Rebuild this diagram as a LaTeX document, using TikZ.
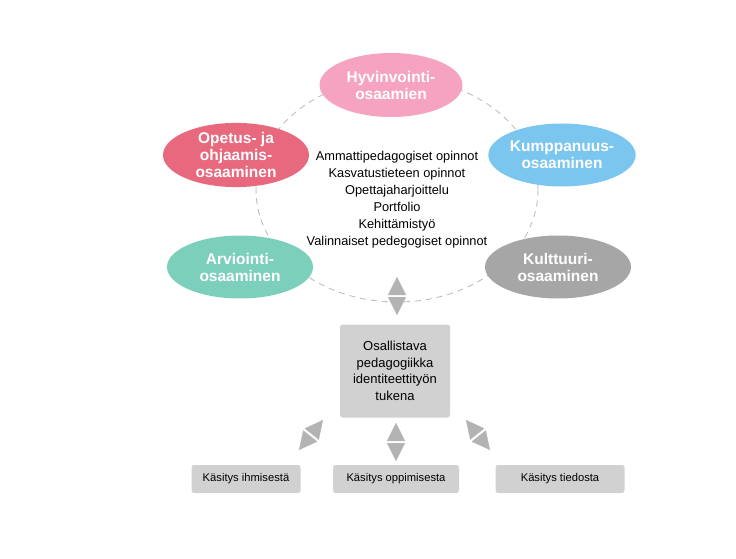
\documentclass[tikz,border=0pt]{standalone}
\usepackage{fontspec}
\setmainfont{Liberation Sans}
\usepackage{tikz}
\usetikzlibrary{shapes.geometric, arrows.meta, positioning}

\definecolor{pinkov}{HTML}{F5A3C0}
\definecolor{redov}{HTML}{E8687E}
\definecolor{blueov}{HTML}{7BC6EE}
\definecolor{tealov}{HTML}{7CCFBB}
\definecolor{grayov}{HTML}{A6A6A6}
\definecolor{boxgray}{HTML}{D1D1D2}
\definecolor{tipgray}{HTML}{B3B3B3}
\definecolor{ringgray}{HTML}{BDBDBD}

\begin{document}
\begin{tikzpicture}[
    x=1pt, y=-1pt,
    oval/.style={ellipse, minimum width=146pt, minimum height=63pt, inner sep=0pt, align=center, text=white, font=\fontsize{15.5}{17}\selectfont\bfseries},
    ring/.style={ellipse, draw=ringgray, line width=0.9pt, dash pattern=on 6pt off 5pt, minimum width=282pt, minimum height=224pt},
    box/.style={rectangle, rounded corners=2.5pt, fill=boxgray, align=center, inner sep=0pt},
    dbl/.style={white, line width=0.2pt, {Triangle[width=18pt, length=18pt, color=tipgray]}-{Triangle[width=18pt, length=18pt, color=tipgray]}}
]
\useasboundingbox (0,0) rectangle (736,559);

\node[ring] (ring) at (397,190) {};
\node[align=center, font=\fontsize{12.8}{17}\selectfont] (studies) at (397,200)
  {Ammattipedagogiset opinnot\\Kasvatustieteen opinnot\\Opettajaharjoittelu\\Portfolio\\Kehittämistyö\\Valinnaiset pedegogiset opinnot};

\node[oval, fill=pinkov, minimum width=143pt, minimum height=64pt] (hyv) at (391,85) {Hyvinvointi-\\osaamien};
\node[oval, fill=redov] (ope) at (236,155) {Opetus- ja\\ohjaamis-\\osaaminen};
\node[oval, fill=blueov] (kump) at (562,155) {Kumppanuus-\\osaaminen};
\node[oval, fill=tealov] (arv) at (240,267) {Arviointi-\\osaaminen};
\node[oval, fill=grayov] (kult) at (558,267) {Kulttuuri-\\osaaminen};

\node[box, minimum width=110pt, minimum height=93pt, font=\fontsize{13}{16.7}\selectfont] (osal) at (395,371)
  {Osallistava\\pedagogiikka\\identiteettityön\\tukena};

\node[box, minimum width=109pt, minimum height=28pt, font=\fontsize{11.2}{13}\selectfont] (ihm) at (246,479) {Käsitys ihmisestä};
\node[box, minimum width=126pt, minimum height=28pt, font=\fontsize{11.2}{13}\selectfont] (opp) at (396,479) {Käsitys oppimisesta};
\node[box, minimum width=129pt, minimum height=28pt, font=\fontsize{11.2}{13}\selectfont] (tie) at (560,479) {Käsitys tiedosta};

% double arrow ends
\coordinate (t1) at (397,277);
\coordinate (t2) at (397,315);
\coordinate (m1) at (396,423);
\coordinate (m2) at (396,461);
\coordinate (l1) at (323,420);
\coordinate (l2) at (299,450);
\coordinate (r1) at (466,420);
\coordinate (r2) at (490,450);

\draw[dbl] (t1) -- (t2);
\draw[dbl] (m1) -- (m2);
\draw[dbl] (l1) -- (l2);
\draw[dbl] (r1) -- (r2);
\end{tikzpicture}
\end{document}
